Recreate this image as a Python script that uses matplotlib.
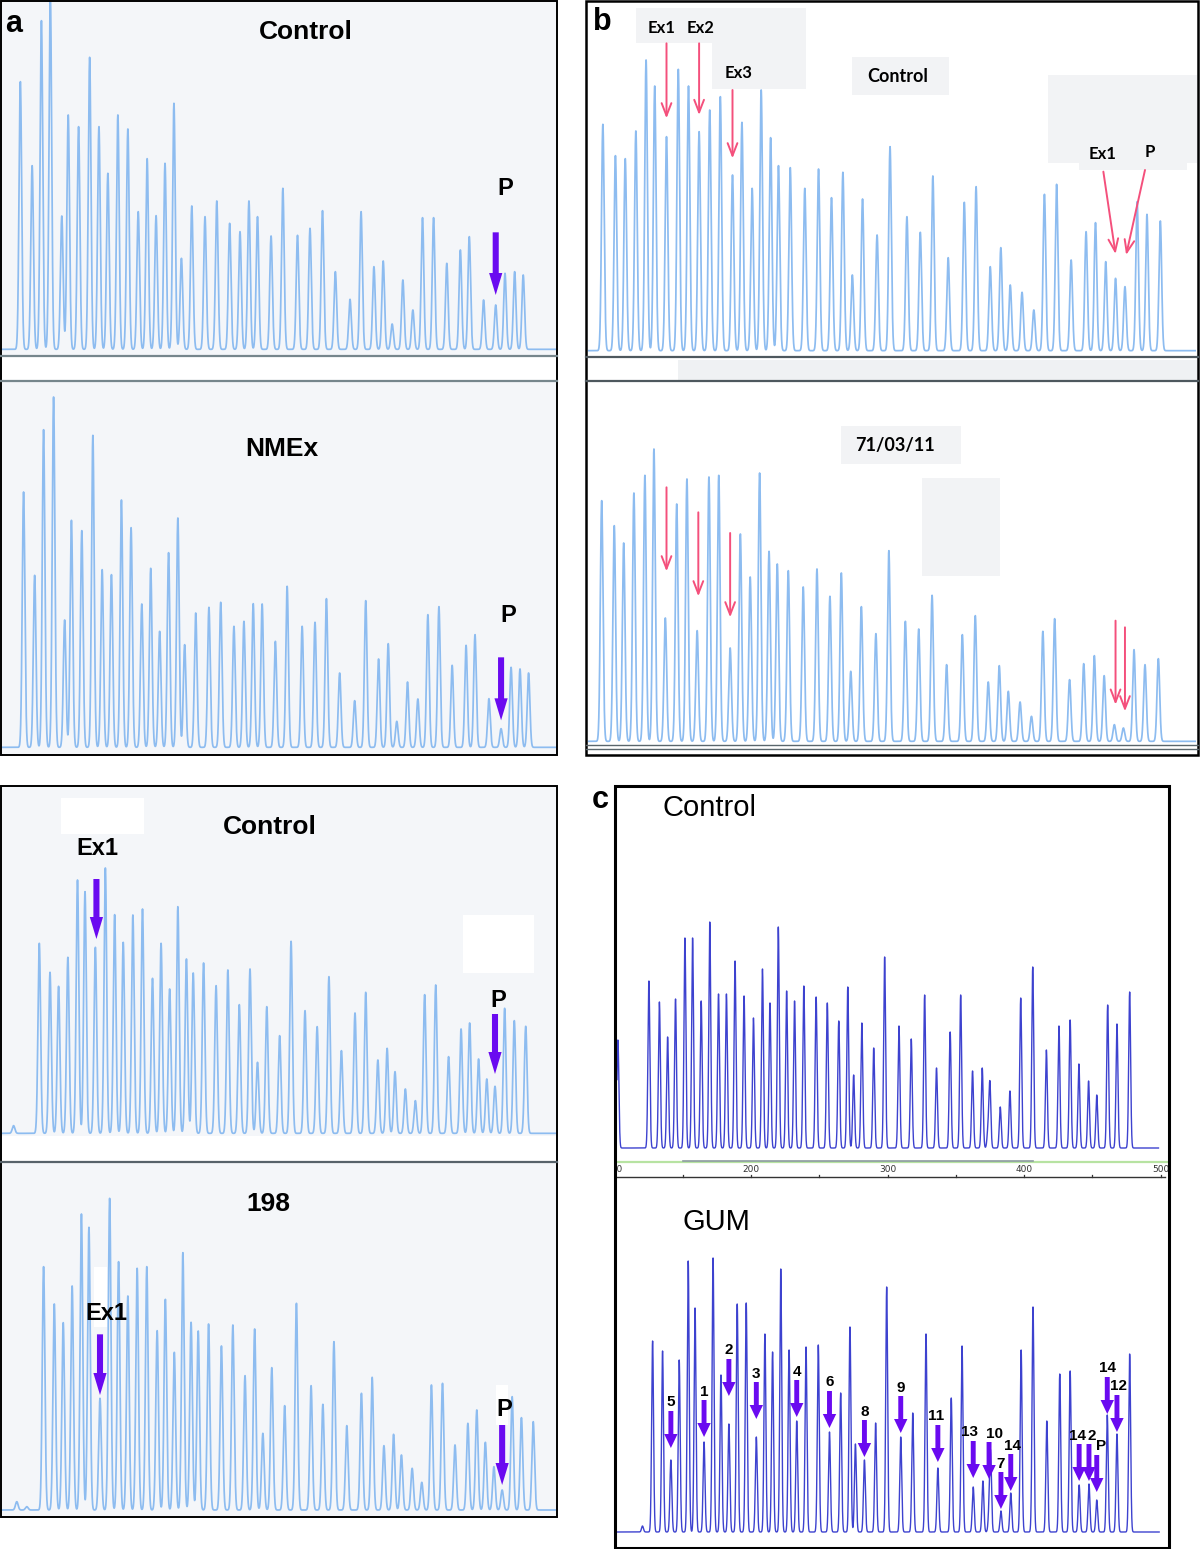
import numpy as np
import matplotlib
matplotlib.use('Agg')
import matplotlib.pyplot as plt
from matplotlib.patches import Rectangle
from matplotlib.transforms import Bbox

W, H = 1200, 1549

# ---------------- peak tables (position in scan units, height in signal units) ----------------
# panel a, Control
a_ctrl_pos = [57, 90, 116, 141, 173, 191, 220, 251, 277, 302, 330, 358, 387, 412, 437, 462, 487, 508,
              537, 574, 607, 643, 672, 697, 721, 759, 792, 833, 868, 903, 939, 980, 1011, 1047, 1073,
              1098, 1128, 1156, 1183, 1214, 1251, 1289, 1314, 1354, 1388, 1414, 1441, 1465]
a_ctrl_h = [803, 551, 986, 1060, 400, 703, 668, 876, 668, 528, 703, 661, 413, 572, 401, 558, 738, 273,
            430, 398, 445, 378, 353, 445, 398, 340, 483, 342, 363, 416, 233, 150, 413, 248, 265,
            76, 208, 118, 395, 395, 258, 298, 338, 148, 133, 228, 233, 223]
# panel a, NMEx
a_nmex_pos = [66, 97, 122, 150, 181, 200, 229, 260, 286, 312, 340, 367, 397, 422, 447, 472, 498, 517,
              548, 585, 618, 655, 683, 709, 734, 771, 804, 846, 882, 914, 951, 993, 1024, 1060, 1087,
              1111, 1141, 1170, 1198, 1229, 1266, 1305, 1330, 1369, 1403, 1431, 1456, 1480]
a_nmex_h = [766, 516, 953, 1051, 382, 681, 650, 936, 533, 518, 742, 659, 430, 537, 348, 584, 688, 308,
            403, 420, 435, 363, 378, 431, 430, 318, 483, 363, 375, 446, 223, 140, 440, 265, 311,
            78, 196, 145, 398, 422, 246, 306, 338, 146, 56, 240, 235, 223]
# panel b, Control
b_ctrl_pos = [48, 80, 105, 132, 158, 180, 210, 240, 266, 293, 320, 347, 378, 402, 428, 451, 475, 495,
              525, 562, 597, 630, 659, 683, 709, 746, 779, 822, 856, 888, 927, 968, 998, 1034, 1061,
              1085, 1115, 1145, 1172, 1203, 1240, 1278, 1302, 1328, 1353, 1377, 1408, 1433, 1467]
b_ctrl_h = [679, 585, 576, 659, 872, 794, 642, 844, 794, 657, 722, 762, 527, 685, 487, 782, 639, 555,
            549, 487, 545, 459, 535, 227, 455, 347, 612, 402, 355, 524, 279, 445, 492, 252, 309,
            197, 175, 122, 469, 499, 272, 357, 384, 267, 217, 192, 447, 409, 389]
# panel b, 71/03/11
b_pat_pos = [45, 77, 101, 127, 155, 178, 207, 236, 262, 288, 318, 343, 372, 398, 423, 447, 471, 492,
             520, 558, 593, 626, 655, 679, 706, 743, 776, 818, 852, 886, 923, 963, 996, 1029, 1057,
             1080, 1110, 1139, 1168, 1198, 1236, 1272, 1299, 1324, 1350, 1373, 1400, 1428, 1462]
b_pat_h = [722, 647, 595, 745, 798, 877, 370, 712, 787, 332, 793, 798, 280, 622, 493, 805, 570, 532,
           512, 463, 517, 435, 505, 210, 404, 323, 572, 360, 337, 438, 230, 320, 377, 178, 227,
           150, 118, 75, 330, 368, 185, 233, 257, 197, 50, 40, 275, 230, 248]
# lower left, Control
d_ctrl_pos = [38, 110, 140, 164, 190, 217, 238, 267, 295, 321, 345, 372, 399, 427, 451, 475, 498, 522,
              541, 570, 605, 638, 670, 700, 721, 747, 783, 815, 854, 888, 921, 956, 994, 1024, 1058,
              1084, 1106, 1135, 1163, 1189, 1220, 1256, 1291, 1315, 1340, 1363, 1386, 1413, 1440, 1472]
d_ctrl_h = [23, 570, 483, 441, 528, 760, 725, 558, 796, 656, 573, 655, 673, 465, 570, 433, 680, 523,
            481, 511, 443, 490, 386, 493, 213, 380, 293, 576, 368, 320, 470, 248, 361, 423, 220,
            255, 185, 133, 98, 416, 445, 230, 313, 331, 223, 163, 141, 375, 338, 321]
# lower left, 198
d_198_pos = [47, 75, 122, 152, 177, 202, 228, 249, 280, 307, 332, 358, 384, 411, 440, 463, 488, 512,
             535, 555, 584, 620, 652, 686, 713, 736, 761, 797, 830, 871, 904, 935, 971, 1012, 1042,
             1075, 1102, 1124, 1154, 1181, 1208, 1239, 1274, 1310, 1335, 1359, 1383, 1406, 1434,
             1460, 1493]
d_198_h = [25, 10, 730, 618, 562, 672, 888, 848, 335, 935, 745, 642, 725, 730, 538, 632, 473, 772,
           563, 537, 558, 492, 555, 403, 543, 230, 427, 313, 620, 373, 317, 505, 253, 350, 398,
           193, 227, 165, 125, 83, 375, 380, 195, 260, 300, 203, 130, 60, 340, 277, 265]
# panel c, Control (size in bp)
c_ctrl_bp = [102.5, 125.2, 132.9, 138.9, 144.7, 151.6, 157.2, 163.5, 169.8, 176.2, 182.0, 188.3,
             194.9, 201.8, 208.4, 213.9, 220.0, 226.1, 231.9, 238.7, 247.7, 255.9, 264.3, 270.9,
             275.2, 281.2, 289.9, 297.9, 308.4, 317.4, 327.2, 335.9, 345.9, 353.6, 362.3, 369.4,
             373.6, 375.0, 382.6, 389.7, 397.6, 406.4, 416.4, 425.6, 433.8, 440.2, 447.3, 453.3,
             461.3, 468.1, 477.4]
c_ctrl_h = [108, 167, 146, 111, 149, 210, 210, 147, 226, 154, 154, 187, 152, 130, 179, 145, 221, 157,
            147, 162, 151, 145, 127, 161, 73, 125, 100, 191, 122, 109, 153, 80, 116, 153, 77, 80,
            17, 65, 41, 57, 150, 181, 98, 122, 128, 84, 67, 53, 143, 124, 156]
# panel c, GUM
c_gum_bp = [120.5, 127.9, 135.2, 141.3, 147.4, 154.0, 159.0, 165.6, 172.2, 178.0, 183.8, 189.9,
            196.5, 203.9, 210.2, 215.8, 221.8, 227.9, 233.5, 240.3, 249.3, 257.5, 265.7, 272.5,
            276.5, 283.1, 291.3, 299.4, 309.7, 318.5, 328.2, 336.9, 346.7, 354.6, 362.8, 369.9,
            374.4, 375.5, 383.1, 390.3, 397.9, 406.6, 416.7, 426.2, 433.8, 440.4, 447.6, 453.3,
            461.0, 468.1, 477.4]
c_gum_h = [6, 191, 181, 72, 172, 271, 224, 90, 274, 157, 108, 228, 229, 95, 198, 180, 263, 182, 111,
           185, 187, 100, 139, 205, 88, 72, 109, 245, 95, 119, 198, 64, 134, 186, 45, 51, 17, 77, 21,
           39, 182, 225, 111, 158, 161, 47, 48, 32, 117, 98, 178]

# GUM arrows: label, peak index, arrow tail height, label x shift (bp)
gum_labels = ['5', '1', '2', '3', '4', '6', '8', '9', '11', '13', '10', '7', '14', '14', '2', 'P', '14', '12']
gum_peak = [3, 7, 10, 13, 18, 21, 25, 28, 31, 34, 36, 38, 39, 45, 46, 47, 48, 49]
gum_tail = [121, 132, 173, 150, 152, 141, 112, 136, 107, 91, 90, 60, 78, 88, 88, 77, 155, 137]
gum_dx = [0, 0, 0, 0, 0, 0, 0, 0, -1, -3, 4, 0, 1, -1, 2, 3, 0, 1]

size_ticks = [100, 200, 300, 400, 500]

LIGHT = '#8dbcf0'
DARKC = '#3d42cf'
PURPLE = '#6a0af0'
PINK = '#f4507c'
PANEL_BG = '#f4f6f9'

plt.rcParams['font.family'] = ['Liberation Sans', 'DejaVu Sans']

fig = plt.figure(figsize=(W / 100, H / 100), dpi=100)
fig.patch.set_facecolor('white')


def px_axes(z):
    ax = fig.add_axes([0, 0, 1, 1], zorder=z)
    ax.set_xlim(0, W)
    ax.set_ylim(H, 0)
    ax.axis('off')
    ax.patch.set_visible(False)
    return ax


bg = px_axes(0)
ov = px_axes(5)


def box_ax(box):
    bx0, by0, bx1, by1 = box
    ax = fig.add_axes([bx0 / W, 1 - by1 / H, (bx1 - bx0) / W, (by1 - by0) / H], zorder=2)
    ax.axis('off')
    ax.patch.set_visible(False)
    return ax


def scan_axes(crop, base, box):
    cx, cy, cw, ch = crop
    sx = 1568.0 / cw
    ax = box_ax(box)
    ax.set_xlim((box[0] - cx) * sx, (box[2] - cx) * sx)
    ax.set_ylim(base - (box[3] - cy) * 3, base - (box[1] - cy) * 3)
    return ax


def size_axes(base_y, box):
    ax = box_ax(box)
    ax.set_xlim(100 + (box[0] - 614.5) / 1.365, 100 + (box[2] - 614.5) / 1.365)
    ax.set_ylim(base_y - box[3], base_y - box[1])
    return ax


def trace(ax, pos, hts, sigma, color, lw, x0=None, x1=None):
    lo, hi = ax.get_xlim()
    x = np.linspace(lo if x0 is None else x0, hi if x1 is None else x1, 16000)
    y = np.zeros_like(x)
    for p, h in zip(pos, hts):
        y += h * np.exp(-0.5 * ((x - p) / sigma) ** 2)
    ax.plot(x, y, color=color, lw=lw, solid_joinstyle='round')


def fat_arrow(ax, x, tail, tip, w, hw, hl):
    ax.arrow(x, tail, 0, tip - tail, width=w, head_width=hw, head_length=hl,
             length_includes_head=True, color=PURPLE, lw=0, zorder=4)


def pink_arrow(ax, xy_tail, xy_tip):
    ax.annotate('', xy=xy_tip, xytext=xy_tail,
                arrowprops=dict(arrowstyle='->,head_length=0.9,head_width=0.35', color=PINK,
                                lw=1.4, shrinkA=0, shrinkB=0))


def rect(ax, x0, y0, x1, y1, **kw):
    ax.add_patch(Rectangle((x0, y0), x1 - x0, y1 - y0, **kw))


def label(x, y, s, size, weight='bold', family=None, ha='center'):
    kw = {}
    if family:
        kw['family'] = family
    ov.text(x, y, s, fontsize=size, fontweight=weight, ha=ha, va='center', color='black', **kw)


# ---------------- backgrounds ----------------
rect(bg, 1, 1, 557, 355, fc=PANEL_BG, ec='none')
rect(bg, 1, 357, 557, 379, fc='white', ec='none')
rect(bg, 1, 381, 557, 755, fc=PANEL_BG, ec='none')
rect(bg, 1, 786, 557, 1136, fc=PANEL_BG, ec='none')
rect(bg, 1, 1136, 557, 1161, fc='white', ec='none')
rect(bg, 1, 1163, 557, 1517, fc=PANEL_BG, ec='none')
rect(bg, 61, 798, 144, 834, fc='white', ec='none')
rect(bg, 463, 915, 534, 973, fc='white', ec='none')
rect(bg, 94, 1267, 107, 1327, fc='white', ec='none')
rect(bg, 496, 1385, 508, 1425, fc='white', ec='none')

GREYBOX = '#f2f3f5'
rect(bg, 636, 8, 806, 43, fc=GREYBOX, ec='none')
rect(bg, 712, 43, 806, 89, fc=GREYBOX, ec='none')
rect(bg, 852, 57, 949, 95, fc=GREYBOX, ec='none')
rect(bg, 1048, 75, 1197, 163, fc=GREYBOX, ec='none')
rect(bg, 1079, 163, 1187, 170, fc=GREYBOX, ec='none')
rect(bg, 678, 360, 1197, 380, fc='#eff1f3', ec='none')
rect(bg, 841, 426, 961, 464, fc=GREYBOX, ec='none')
rect(bg, 922, 478, 1000, 576, fc=GREYBOX, ec='none')

# ---------------- traces ----------------
ax_a1 = scan_axes((0, 0, 560, 380), 1048, (2, 2, 556, 354))
trace(ax_a1, a_ctrl_pos, a_ctrl_h, 3.7, LIGHT, 1.25)
fat_arrow(ax_a1, a_ctrl_pos[44], 351, 163, 17, 37, 66)

ax_a2 = scan_axes((0, 378, 560, 380), 1108, (2, 382, 556, 753))
trace(ax_a2, a_nmex_pos, a_nmex_h, 3.7, LIGHT, 1.25)
fat_arrow(ax_a2, a_nmex_pos[44], 270, 81, 17, 37, 66)

ax_b1 = scan_axes((584, 0, 616, 380), 1052, (588, 2, 1196, 355))
trace(ax_b1, b_ctrl_pos, b_ctrl_h, 3.4, LIGHT, 1.25)
pink_arrow(ax_b1, (b_ctrl_pos[6], 922), (b_ctrl_pos[6], 697))
pink_arrow(ax_b1, (b_ctrl_pos[9], 922), (b_ctrl_pos[9], 707))
pink_arrow(ax_b1, (b_ctrl_pos[12], 782), (b_ctrl_pos[12], 577))
pink_arrow(ax_b1, (1322, 537), (b_ctrl_pos[44], 290))
pink_arrow(ax_b1, (1428, 542), (b_ctrl_pos[45] + 3, 287))

ax_b2 = scan_axes((584, 378, 616, 380), 1090, (588, 383, 1196, 744))
trace(ax_b2, b_pat_pos, b_pat_h, 3.4, LIGHT, 1.25)
pink_arrow(ax_b2, (b_pat_pos[6] + 3, 762), (b_pat_pos[6] + 3, 510))
pink_arrow(ax_b2, (b_pat_pos[9] + 3, 687), (b_pat_pos[9] + 3, 435))
pink_arrow(ax_b2, (b_pat_pos[12], 625), (b_pat_pos[12], 372))
pink_arrow(ax_b2, (b_pat_pos[44] + 3, 362), (b_pat_pos[44] + 3, 110))
pink_arrow(ax_b2, (b_pat_pos[45] + 4, 342), (b_pat_pos[45] + 4, 90))

ax_d1 = scan_axes((0, 784, 560, 380), 1048, (2, 787, 556, 1135))
trace(ax_d1, d_ctrl_pos, d_ctrl_h, 3.7, LIGHT, 1.25)
fat_arrow(ax_d1, d_ctrl_pos[7] + 3, 763, 583, 17, 37, 66)
fat_arrow(ax_d1, d_ctrl_pos[46], 358, 178, 17, 37, 66)

ax_d2 = scan_axes((0, 1160, 560, 360), 1050, (2, 1164, 556, 1515))
trace(ax_d2, d_198_pos, d_198_h, 3.7, LIGHT, 1.25)
fat_arrow(ax_d2, d_198_pos[8], 527, 345, 17, 37, 66)
fat_arrow(ax_d2, d_198_pos[47], 255, 75, 17, 37, 66)

ax_c1 = size_axes(1148, (617, 789, 1167, 1158))
trace(ax_c1, c_ctrl_bp, c_ctrl_h, 0.7, DARKC, 1.0, None, 498.5)
# size scale under the control trace
ax_c1.plot([101.1, 505.4], [-14, -14], color='#b7e3a2', lw=1.6, clip_on=False)
ax_c1.plot([150.2, 406.6], [-12.5, -12.5], color='#8e9ca2', lw=1.2, clip_on=False)
ax_c1.plot([101.1, 503], [-29, -29], color='#333333', lw=1.0, clip_on=False)
for t in range(150, 501, 50):
    ax_c1.plot([t, t], [-29, -26.5], color='#333333', lw=0.9, clip_on=False)
clip_bb = Bbox.from_extents(617, 0, 1168, H)
for t in size_ticks:
    tx = ax_c1.text(t, -21, str(t), fontsize=6.5, ha='center', va='center', color='#333333',
                    family=['DejaVu Sans'])
    tx.set_clip_box(clip_bb)
    tx.set_clip_on(True)

ax_c2 = size_axes(1532, (617, 1180, 1167, 1545))
trace(ax_c2, c_gum_bp, c_gum_h, 0.7, DARKC, 1.0, 102, 499)
for lab, i, tail, dx in zip(gum_labels, gum_peak, gum_tail, gum_dx):
    x = c_gum_bp[i]
    fat_arrow(ax_c2, x, tail, tail - 37, 3.6, 9.8, 14)
    ax_c2.text(x + dx, tail + 1.5, lab, fontsize=11, fontweight='bold', ha='center',
               va='bottom', color='black', zorder=5)

# ---------------- frames and separators ----------------
ov.add_patch(Rectangle((1, 1), 556, 754, fc='none', ec='black', lw=1.4))
ov.plot([1, 557], [356, 356], color='#76868c', lw=1.6)
ov.plot([1, 557], [380.5, 380.5], color='#76868c', lw=1.6)

ov.add_patch(Rectangle((586, 1), 612, 754, fc='none', ec='black', lw=1.8))
ov.plot([586, 1198], [357, 357], color='#4e585e', lw=1.6)
ov.plot([586, 1198], [381, 381], color='#4e585e', lw=1.6)
ov.plot([586, 1198], [745, 745], color='#5a666c', lw=1.0)
ov.plot([586, 1198], [749, 749], color='#5a666c', lw=1.0)

ov.add_patch(Rectangle((1, 786), 556, 731, fc='none', ec='black', lw=1.4))
ov.plot([1, 557], [1162, 1162], color='#57626a', lw=1.6)

ov.add_patch(Rectangle((615, 786), 554, 762, fc='none', ec='black', lw=2.2))

# ---------------- labels ----------------
label(14, 24, 'a', 22)
label(306, 32, 'Control', 19)
label(505, 188, 'P', 17)
label(282, 449, 'NMEx', 19)
label(508, 615, 'P', 17)

label(270, 827, 'Control', 19)
label(97, 848, 'Ex1', 17)
label(498, 1000, 'P', 17)
label(268, 1204, '198', 19)
label(106, 1313, 'Ex1', 17)
label(504, 1410, 'P', 17)

label(602, 22, 'b', 22)
BFONT = ['Lato', 'DejaVu Sans']
label(662, 28, 'Ex1', 12, family=BFONT)
label(701, 28, 'Ex2', 12, family=BFONT)
label(739, 73, 'Ex3', 12, family=BFONT)
label(898, 76, 'Control', 13, family=BFONT)
label(1103, 154, 'Ex1', 12, family=BFONT)
label(1150, 152, 'P', 12, family=BFONT)
label(895, 445, '71/03/11', 13, family=BFONT)

label(600, 800, 'c', 22)
label(663, 808, 'Control', 21, weight='normal', ha='left')
label(682, 1222, 'GUM', 21, weight='normal', ha='left')

fig.savefig('out.png', dpi=100, facecolor='white')
